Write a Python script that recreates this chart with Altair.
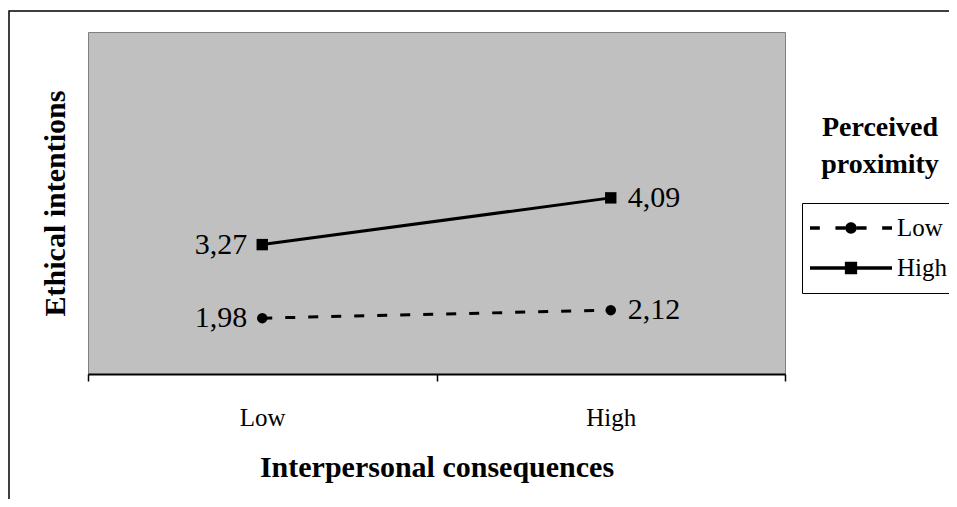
import altair as alt
import pandas as pd

# ---- data ----
consequences = ["Low", "High"]          # x categories (Interpersonal consequences)
proximity_low = [1.98, 2.12]            # Perceived proximity = Low
proximity_high = [3.27, 4.09]           # Perceived proximity = High
groups = ["Low", "High"]
legend_title = ["Perceived", "proximity"]

FONT = "Liberation Serif"

rows = []
for g, vals in zip(groups, [proximity_low, proximity_high]):
    for c, v in zip(consequences, vals):
        rows.append({"consequence": c, "proximity": g, "value": v,
                     "label": f"{v:.2f}".replace(".", ",")})
df = pd.DataFrame(rows)

x_enc = alt.X(
    "consequence:N",
    sort=consequences,
    bandPosition=0.5,
    scale=alt.Scale(type="band", domain=consequences, paddingInner=0, paddingOuter=0),
    axis=alt.Axis(
        title="Interpersonal consequences", titleFont=FONT, titleFontSize=30,
        titleFontWeight="bold", titleColor="black", titlePadding=22,
        labelFont=FONT, labelFontSize=25, labelColor="black", labelAngle=0,
        labelPadding=24, tickBand="extent", tickSize=7, tickColor="black",
        tickWidth=1.5, domainColor="black", domainWidth=2, grid=False,
    ),
)
y_enc = alt.Y(
    "value:Q",
    scale=alt.Scale(domain=[1, 7], nice=False, zero=False),
    axis=alt.Axis(
        title="Ethical intentions", titleFont=FONT, titleFontSize=30,
        titleFontWeight="bold", titleColor="black", titlePadding=18,
        labels=False, ticks=False, domain=False, grid=False,
    ),
)

base = alt.Chart(df)
low = base.transform_filter(alt.datum.proximity == "Low")
high = base.transform_filter(alt.datum.proximity == "High")

frame = alt.Chart(alt.Data(values=[{"f": 1}])).mark_rect(
    fillOpacity=0, stroke="black", strokeWidth=1.5
).encode(
    x=alt.value(-79), x2=alt.value(1200), y=alt.value(-21), y2=alt.value(1000)
)

line_low = low.mark_line(color="black", strokeWidth=3, strokeDash=[10, 13]).encode(
    x=x_enc, y=y_enc
)
line_high = high.mark_line(color="black", strokeWidth=3).encode(x=x_enc, y=y_enc)

circles = low.mark_circle(color="black", size=110, opacity=1).encode(x=x_enc, y=y_enc)
squares = high.mark_square(color="black", size=130, opacity=1).encode(x=x_enc, y=y_enc)

labels_left = base.transform_filter(alt.datum.consequence == "Low").mark_text(
    align="right", baseline="middle", dx=-15, font=FONT, fontSize=30, color="black"
).encode(x=x_enc, y=y_enc, text="label:N")

labels_right = base.transform_filter(alt.datum.consequence == "High").mark_text(
    align="left", baseline="middle", dx=17, font=FONT, fontSize=30, color="black"
).encode(x=x_enc, y=y_enc, text="label:N")

# legend symbols: line-with-marker glyphs built as filled paths
path_low = ("M-1,-0.045H-0.76V0.045H-1Z"
            "M-0.38,-0.045H-0.14V0.045H-0.38Z"
            "M0.14,-0.045H0.38V0.045H0.14Z"
            "M0.76,-0.045H1V0.045H0.76Z"
            "M0.14,0A0.14,0.14,0,1,1,-0.14,0A0.14,0.14,0,1,1,0.14,0Z")
path_high = "M-1,-0.04H1V0.04H-1ZM-0.15,-0.15H0.15V0.15H-0.15Z"

# legend-only layer: its points sit outside the view and are clipped away
legend_layer = base.mark_point(filled=True, color="black", clip=True).encode(
    x=alt.value(-2000), y=alt.value(-2000),
    shape=alt.Shape(
        "proximity:N",
        scale=alt.Scale(domain=groups, range=[path_low, path_high]),
        legend=alt.Legend(
            title=None, orient="none", legendX=714, legendY=171,
            padding=7, strokeColor="black", fillColor="white",
            labelFont=FONT, labelFontSize=25, labelColor="black", labelOffset=4,
            symbolSize=6724, symbolFillColor="black", symbolOpacity=1,
            clipHeight=36, rowPadding=4,
        ),
    )
)

legend_title_mark = alt.Chart(alt.Data(values=[{"f": 1}])).mark_text(
    font=FONT, fontSize=28, fontWeight="bold", color="black",
    align="center", baseline="middle", lineHeight=37,
).encode(x=alt.value(792), y=alt.value(96), text=alt.value(legend_title))

chart = alt.layer(
    frame, line_low, line_high, circles, squares, labels_left, labels_right,
    legend_layer, legend_title_mark
).properties(
    width=697, height=342,
    padding={"left": 80, "top": 24, "right": 164, "bottom": 125},
    autosize=alt.AutoSizeParams(type="none"),
    background="white",
    view=alt.ViewBackground(fill="#C0C0C0", stroke="#808080", strokeWidth=1),
).configure_view(
    fill="#C0C0C0", stroke="#808080", strokeWidth=1
)

chart.save("out.html", embed_options={"renderer": "svg", "actions": False})
